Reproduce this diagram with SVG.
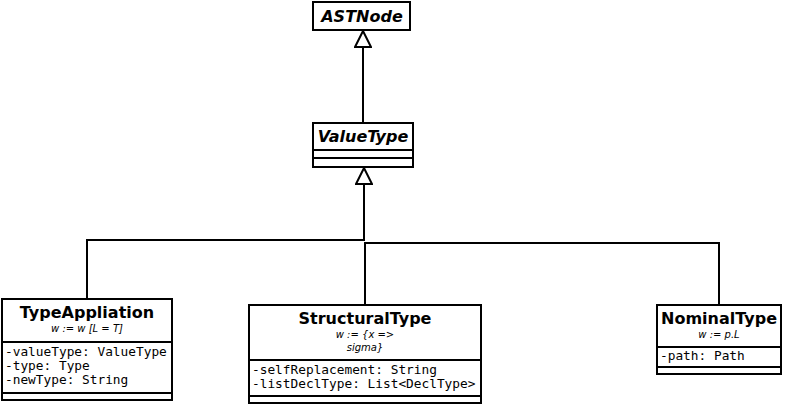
<svg xmlns="http://www.w3.org/2000/svg" width="785" height="406" viewBox="0 0 785 406">
<defs>
<style>
.box{fill:#fff;stroke:#000;stroke-width:2}
.div{stroke:#000;stroke-width:2}
.title{font-family:"DejaVu Sans",sans-serif;font-weight:bold;font-size:16px;text-anchor:middle;fill:#000}
.abs{font-style:italic}
.sub{font-family:"DejaVu Sans",sans-serif;font-style:italic;font-size:10px;text-anchor:middle;fill:#000}
.attr{font-family:"DejaVu Sans Mono",monospace;font-size:12.8px;fill:#000}
.conn{fill:none;stroke:#000;stroke-width:2}
</style>
<marker id="gen" viewBox="0 0 18 18" markerWidth="18" markerHeight="18" refX="17" refY="9" orient="auto" markerUnits="userSpaceOnUse">
<path d="M1,1 L17,9 L1,17 Z" fill="#fff" stroke="#000" stroke-width="2" stroke-linejoin="miter"/>
</marker>
</defs>
<rect width="785" height="406" fill="#fff"/>
<g id="connectors">
<path class="conn" d="M363,123 V31" marker-end="url(#gen)"/>
<path class="conn" d="M364,241 V168" marker-end="url(#gen)"/>
<path class="conn" d="M87,299 V240 H364"/>
<path class="conn" d="M365,305 V243 H719 V305"/>
</g>
<g id="ASTNode">
<rect class="box" x="313" y="2" width="97" height="28"/>
<text class="title abs" x="362" y="22">ASTNode</text>
</g>
<g id="ValueType">
<rect class="box" x="313" y="123" width="100" height="44"/>
<line class="div" x1="313" y1="150" x2="413" y2="150"/>
<line class="div" x1="313" y1="158" x2="413" y2="158"/>
<text class="title abs" x="363" y="142">ValueType</text>
</g>
<g id="TypeAppliation">
<rect class="box" x="2" y="299" width="170" height="101"/>
<line class="div" x1="2" y1="342" x2="172" y2="342"/>
<line class="div" x1="2" y1="393" x2="172" y2="393"/>
<text class="title" x="87" y="318">TypeAppliation</text>
<text class="sub" x="87" y="332">w := w [L = T]</text>
<text class="attr" x="5" y="356">-valueType: ValueType</text>
<text class="attr" x="5" y="370">-type: Type</text>
<text class="attr" x="5" y="384">-newType: String</text>
</g>
<g id="StructuralType">
<rect class="box" x="249" y="305" width="232" height="98"/>
<line class="div" x1="249" y1="360" x2="481" y2="360"/>
<line class="div" x1="249" y1="396" x2="481" y2="396"/>
<text class="title" x="365" y="324">StructuralType</text>
<text class="sub" x="365" y="338">w := {x =&gt;</text>
<text class="sub" x="365" y="351">sigma}</text>
<text class="attr" x="252" y="374">-selfReplacement: String</text>
<text class="attr" x="252" y="388">-listDeclType: List&lt;DeclType&gt;</text>
</g>
<g id="NominalType">
<rect class="box" x="657" y="305" width="124" height="69"/>
<line class="div" x1="657" y1="347" x2="781" y2="347"/>
<line class="div" x1="657" y1="367" x2="781" y2="367"/>
<text class="title" x="719" y="324">NominalType</text>
<text class="sub" x="719" y="338">w := p.L</text>
<text class="attr" x="660" y="360">-path: Path</text>
</g>
</svg>
